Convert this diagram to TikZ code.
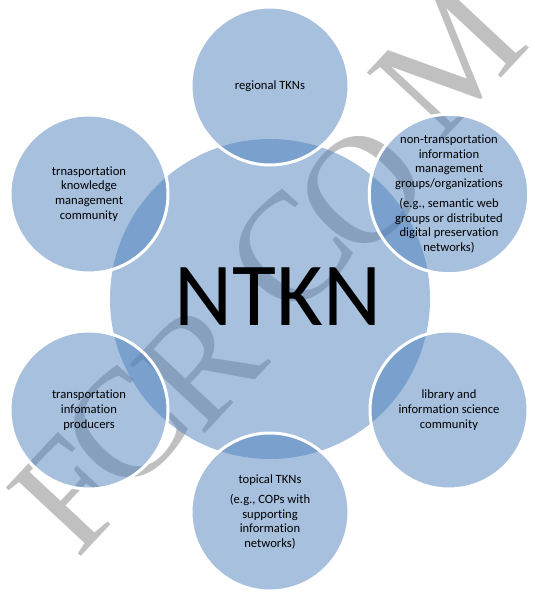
\documentclass[tikz,border=0pt]{standalone}
\usepackage{fontspec}
\setmainfont{Carlito}[Ligatures=NoCommon]
\newfontfamily\wmfont{Liberation Serif}
\definecolor{accent}{RGB}{79,129,189}
\definecolor{wmgray}{RGB}{192,192,192}
\begin{document}
\begin{tikzpicture}[x=1pt,y=-1pt,
  wmletter/.style={font=\wmfont\fontsize{155}{155}\selectfont, text=wmgray, inner sep=0pt, rotate=47},
  hub/.style={circle, inner sep=0pt, minimum size=320pt, fill=accent, fill opacity=0.5, text opacity=1},
  sat/.style={circle, inner sep=0pt, minimum size=158pt, fill=accent, fill opacity=0.5,
    draw=white, draw opacity=1, line width=3pt, text opacity=1, align=center,
    font=\fontsize{12.6}{14.7}\selectfont},
  bigtext/.style={inner sep=0pt, font=\fontsize{90}{90}\selectfont}]
\useasboundingbox (0,0) rectangle (535,597);
\clip (0,0) rectangle (535,597);
% watermark (behind)
\node[wmletter] (w1) at (70,494) {F};
\node[wmletter] (w2) at (125,428) {C};
\node[wmletter] (w3) at (200,365) {R};
\node[wmletter] (w4) at (290,252) {C};
\node[wmletter] (w5) at (362,190) {O};
\node[wmletter] (w6) at (448,60) {M};
% hub
\node[hub] (hub) at (270,299) {};
% satellites
\node[sat] (top) at (270,86) {regional TKNs};
\node[sat] (tl) at (89,194) {trnasportation\\knowledge\\management\\community};
\node[sat] (tr) at (449,194) {non-transportation\\information\\management\\groups/organizations\\[5pt](e.g., semantic web\\groups or distributed\\digital preservation\\networks)};
\node[sat] (bl) at (89,410) {transportation\\infomation\\producers};
\node[sat] (br) at (449,410) {library and\\information science\\community};
\node[sat] (bot) at (270,512) {topical TKNs\\[5pt](e.g., COPs with\\supporting\\information\\networks)};
\node[bigtext] (ntkn) at (278,297) {NTKN};
\end{tikzpicture}
\end{document}
